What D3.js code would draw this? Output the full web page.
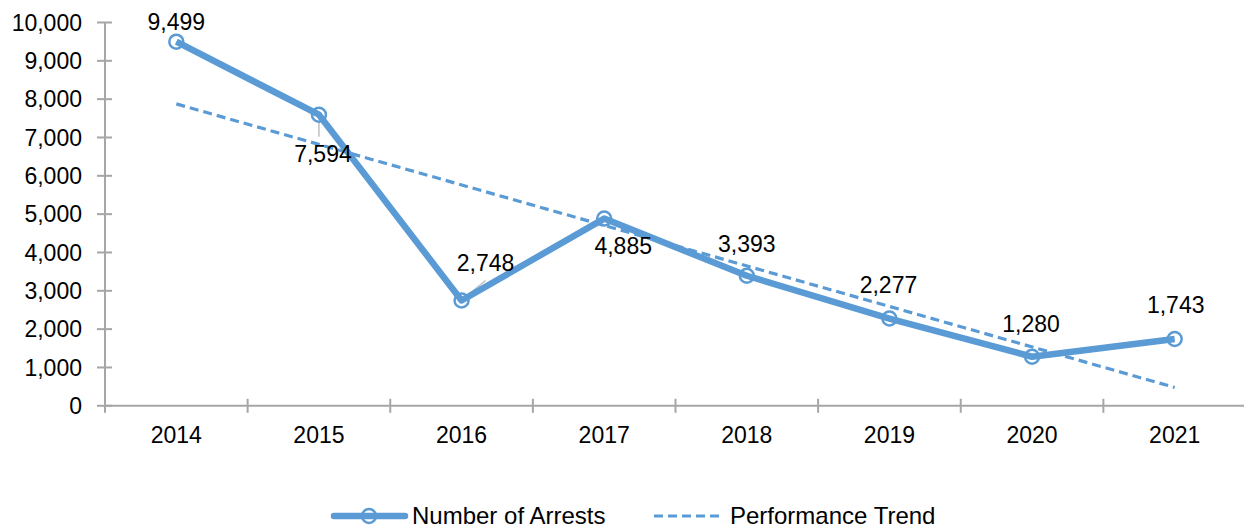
<!DOCTYPE html>
<html><head><meta charset="utf-8">
<script src="https://cdn.jsdelivr.net/npm/d3@7"></script>
<style>body{margin:0;background:#fff}svg{display:block}text{font-family:"Liberation Sans",Arial,sans-serif;fill:#000}</style>
</head><body><svg id="c" width="1244" height="529"></svg>
<script>
const years = ["2014","2015","2016","2017","2018","2019","2020","2021"];
const arrests = [9499, 7594, 2748, 4885, 3393, 2277, 1280, 1743];
const trendYears = ["2014","2021"];
const trendValues = [7876, 479];
const yTicks = [0,1000,2000,3000,4000,5000,6000,7000,8000,9000,10000];
const seriesNames = ["Number of Arrests","Performance Trend"];
// label offsets (dx, dy) relative to point
const labelOffsets = [[0,-20],[4,39],[24,-38],[19,27],[0,-32],[-1,-34],[-1,-33],[1,-34]];

const svg = d3.select("#c");
const color = "#5B9BD5";
const x = d3.scaleBand().domain(years).range([105, 1246]);
const y = d3.scaleLinear().domain([0,10000]).range([405.8, 22.5]);
const fmt = d3.format(",");
const fs = 23;

// y axis
const ya = svg.append("g").attr("transform","translate(105,0)");
ya.append("line").attr("y1",y(0)).attr("y2",y(10000)).attr("stroke","#a6a6a6").attr("stroke-width",2);
ya.selectAll("line.t").data(yTicks).join("line").attr("class","t")
  .attr("x1",-8).attr("x2",7).attr("y1",d=>y(d)).attr("y2",d=>y(d)).attr("stroke","#a6a6a6").attr("stroke-width",2);
ya.selectAll("text").data(yTicks).join("text").attr("x",-23).attr("y",d=>y(d)).attr("dy","0.35em")
  .attr("text-anchor","end").attr("font-size",fs).text(d=>fmt(d));

// x axis
const xa = svg.append("g");
xa.append("line").attr("x1",105).attr("x2",1246).attr("y1",y(0)).attr("y2",y(0)).attr("stroke","#a6a6a6").attr("stroke-width",2);
const bounds = years.map(d=>x(d)).concat([x.range()[1]]);
xa.selectAll("line.t").data(bounds).join("line").attr("class","t")
  .attr("x1",d=>d).attr("x2",d=>d).attr("y1",y(0)-7).attr("y2",y(0)+7).attr("stroke","#a6a6a6").attr("stroke-width",2);
xa.selectAll("text").data(years).join("text").attr("x",d=>x(d)+x.bandwidth()/2).attr("y",435)
  .attr("dy","0.35em").attr("text-anchor","middle").attr("font-size",fs).text(d=>d);

const cx = d=>x(d)+x.bandwidth()/2;

// trend
svg.append("path").datum(trendYears.map((d,i)=>[cx(d),y(trendValues[i])]))
  .attr("d",d3.line()).attr("fill","none").attr("stroke",color).attr("stroke-width",3.2).attr("stroke-dasharray","9,5");

// leader lines
svg.append("line").attr("x1",cx("2015")).attr("x2",cx("2015")).attr("y1",y(7594)+7).attr("y2",y(7594)+22).attr("stroke","#bfbfbf").attr("stroke-width",1.5);
svg.append("line").attr("x1",cx("2016")+2).attr("x2",cx("2016")+24).attr("y1",y(2748)-2).attr("y2",y(2748)-20).attr("stroke","#bfbfbf").attr("stroke-width",1.5);

// main line
svg.append("path").datum(arrests).attr("d",d3.line().x((d,i)=>cx(years[i])).y(d=>y(d)))
  .attr("fill","none").attr("stroke",color).attr("stroke-width",6.5).attr("stroke-linejoin","round");
svg.selectAll("circle.m").data(arrests).join("circle").attr("class","m")
  .attr("cx",(d,i)=>cx(years[i])).attr("cy",d=>y(d)).attr("r",7)
  .attr("fill","none").attr("stroke",color).attr("stroke-width",2.5);

// labels
svg.selectAll("text.lb").data(arrests).join("text").attr("class","lb")
  .attr("x",(d,i)=>cx(years[i])+labelOffsets[i][0]).attr("y",(d,i)=>y(d)+labelOffsets[i][1])
  .attr("dy","0.35em").attr("text-anchor","middle").attr("font-size",fs).text(d=>fmt(d));

// legend
const ly = 516;
const lg = svg.append("g");
lg.append("line").attr("x1",334).attr("x2",405).attr("y1",ly).attr("y2",ly).attr("stroke",color).attr("stroke-width",6.5).attr("stroke-linecap","round");
lg.append("circle").attr("cx",369).attr("cy",ly).attr("r",7).attr("fill","none").attr("stroke",color).attr("stroke-width",2.5);
lg.append("text").attr("x",412).attr("y",ly).attr("dy","0.35em").attr("font-size",24).text(seriesNames[0]);
lg.append("line").attr("x1",654).attr("x2",724).attr("y1",ly).attr("y2",ly).attr("stroke",color).attr("stroke-width",3.2).attr("stroke-dasharray","9,5");
lg.append("text").attr("x",730).attr("y",ly).attr("dy","0.35em").attr("font-size",24).text(seriesNames[1]);
</script></body></html>
